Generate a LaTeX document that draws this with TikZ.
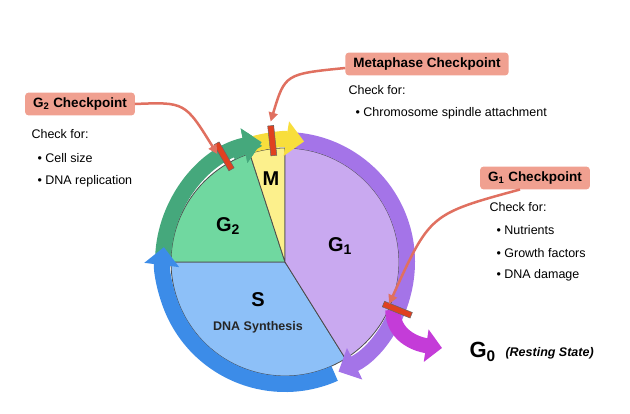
\documentclass[tikz,border=0pt]{standalone}
\usepackage{fontspec}
\setmainfont{Liberation Sans}
\usepackage{tikz}
\usetikzlibrary{arrows.meta,positioning}
\definecolor{pieGtwo}{HTML}{70D8A0}
\definecolor{pieM}{HTML}{FCF08C}
\definecolor{pieGone}{HTML}{C9A9F0}
\definecolor{pieS}{HTML}{8DC0F8}
\definecolor{ringG}{HTML}{45A87C}
\definecolor{ringY}{HTML}{F8DE3C}
\definecolor{ringP}{HTML}{A474E8}
\definecolor{ringB}{HTML}{3C8CE8}
\definecolor{ringMag}{HTML}{C43CD8}
\definecolor{salmon}{HTML}{F0A090}
\definecolor{pointer}{HTML}{E07060}
\definecolor{bar}{HTML}{E04020}
\begin{document}
\begin{tikzpicture}[x=1pt,y=1pt,
    slice/.style={draw=black!70,line width=0.8pt},
    ring/.style={line width=16pt,-{Triangle[width=34pt,length=18pt]}},
    ckbox/.style={fill=salmon,rounded corners=3pt,inner xsep=8pt,inner ysep=5pt,font=\fontsize{13.5}{15}\selectfont\bfseries},
    note/.style={anchor=west,font=\fontsize{12.5}{15}\selectfont},
    phase/.style={font=\fontsize{20}{22}\selectfont\bfseries},
    tick/.style={draw=black!60,fill=bar,line width=0.5pt,minimum width=6pt,minimum height=30pt,inner sep=0pt},
    point/.style={draw=pointer,line width=2.5pt,-{Triangle[width=9pt,length=9pt]}}]
\useasboundingbox (0,0) rectangle (630,414);
\coordinate (c) at (285,152);
% pie slices
\filldraw[pieS,slice] (c) -- ++(-58:114) arc (-58:-180:114) -- cycle;
\filldraw[pieGtwo,slice] (c) -- ++(180:114) arc (180:108:114) -- cycle;
\filldraw[pieM,slice] (c) -- ++(108:114) arc (108:90:114) -- cycle;
\filldraw[pieGone,slice] (c) -- ++(90:114) arc (90:-58:114) -- cycle;
% ring arrows
\draw[ring,ringG] ([shift={(178:122)}]c) arc (178:101:122);
\draw[ring,ringB] ([shift={(-66:122)}]c) arc (-66:-187:122);
\draw[ring,ringP] ([shift={(86:122)}]c) arc (86:-64:122);
\draw[ring,ringY] ([shift={(108:122)}]c) arc (108:81:122);
\draw[ring,ringG] ([shift={(116:122)}]c) arc (116:101:122);
% exit to G0
\coordinate (exit) at ([shift={(-24:118)}]c);
\draw[ringMag,line width=15pt,-{Triangle[width=32pt,length=16pt]}] (exit) .. controls +(0,-25) and (415,70) .. (442,66);
% checkpoint bars
\node[tick,rotate=30] (barGtwo) at ([shift={(120:122)}]c) {};
\node[tick,rotate=6] (barM) at ([shift={(96:122)}]c) {};
\node[tick,rotate=-112] (barGone) at ([shift={(-23:122)}]c) {};
% phase labels
\node[phase] (M) at (271,235) {M};
\node[phase] (G2) at (228,188) {G$_\mathbf{2}$};
\node[phase] (G1) at (340,168) {G$_\mathbf{1}$};
\node[phase] (S) at (258,114) {S};
\node[font=\fontsize{12.5}{15}\selectfont\bfseries,text=black!85] (dna) at (258,87) {DNA Synthesis};
\node[font=\fontsize{22}{24}\selectfont\bfseries,anchor=west] (G0) at (466,62) {G$_\mathbf{0}$};
\node[font=\fontsize{12.5}{15}\selectfont\bfseries\itshape,anchor=west] (rest) at (502,61) {(Resting State)};
% checkpoint boxes and notes
\node[ckbox] (ckGtwo) at (80,310) {G$_\mathbf{2}$ Checkpoint};
\node[note] (n1) at (28,280) {Check for:};
\node[note] (n2) at (34,256) {\textbullet\ Cell size};
\node[note] (n3) at (34,233) {\textbullet\ DNA replication};
\node[ckbox] (ckM) at (427,350) {Metaphase Checkpoint};
\node[note] (n4) at (345,324) {Check for:};
\node[note] (n5) at (352,301) {\textbullet\ Chromosome spindle attachment};
\node[ckbox] (ckGone) at (535,236) {G$_\mathbf{1}$ Checkpoint};
\node[note] (n6) at (486,207) {Check for:};
\node[note] (n7) at (493,184) {\textbullet\ Nutrients};
\node[note] (n8) at (493,161) {\textbullet\ Growth factors};
\node[note] (n9) at (493,139) {\textbullet\ DNA damage};
% pointers
\draw[point] (ckGtwo.east) .. controls (185,312) .. ([shift={(-4pt,4pt)}]barGtwo.west);
\draw[point] ([yshift=-4pt]ckM.west) .. controls (285,340) .. ([yshift=4pt]barM.north);
\draw[point] ([xshift=-15pt]ckGone.south) .. controls (430,200) .. ([xshift=6pt]barGone.south);
\end{tikzpicture}
\end{document}
